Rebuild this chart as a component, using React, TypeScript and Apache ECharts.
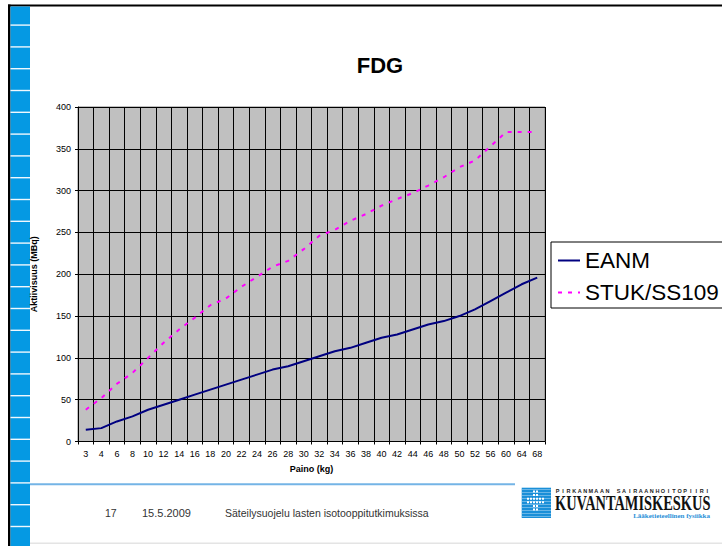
import React, { useEffect, useRef } from "react";
import * as echarts from "echarts";

const categories = ["3","4","6","8","10","12","14","16","18","20","22","24","26","28","30","32","34","36","38","40","42","44","46","48","50","52","56","60","64","68"];
const eanm = [14,16,24,30,38,44,50,56,62,68,74,80,86,90,96,102,108,112,118,124,128,134,140,144,150,158,168,178,188,196];
const stuk = [38,52,69,82,100,118,134,148,163,171,185,197,209,216,230,246,253,264,272,282,290,297,306,316,328,336,353,370,370,370];
const seriesNames = ["EANM", "STUK/SS109"];
const titleText = "FDG";
const yName = "Aktiivisuus (MBq)";
const xName = "Paino (kg)";
const footerTexts = ["17", "15.5.2009", "Säteilysuojelu lasten isotooppitutkimuksissa"];
const orgName = "PIRKANMAAN SAIRAANHOITOPIIRI";
const logoName = "KUVANTAMISKESKUS";
const logoSub = "Lääketieteellinen fysiikka";

const SANS = "'Liberation Sans', Arial, Helvetica, sans-serif";
const SERIF = "'Liberation Serif', 'Times New Roman', serif";

export default function App() {
  const ref = useRef<HTMLDivElement>(null);
  useEffect(() => {
    if (!ref.current) return;
    const chart = echarts.init(ref.current, undefined, { renderer: "svg" });
    const els: any[] = [];
    // top and left black border
    els.push({ type: "rect", shape: { x: 8, y: 4.5, width: 714, height: 2 }, style: { fill: "#000" }, silent: true });
    els.push({ type: "rect", shape: { x: 8, y: 4.5, width: 2.5, height: 542 }, style: { fill: "#000" }, silent: true });
    // blue strip
    els.push({ type: "rect", shape: { x: 10.5, y: 6.5, width: 19.5, height: 540 }, style: { fill: "#0599e3" }, silent: true });
    for (let yy = 25; yy < 546; yy += 21.8) {
      els.push({ type: "rect", shape: { x: 10.5, y: yy - 0.6, width: 19.5, height: 1.4 }, style: { fill: "#f0f8fe" }, silent: true });
    }
    // footer lines
    els.push({ type: "rect", shape: { x: 30, y: 483.3, width: 485, height: 2 }, style: { fill: "#74b4e6" }, silent: true });
    els.push({ type: "rect", shape: { x: 30, y: 542.5, width: 692, height: 1.5 }, style: { fill: "#e4e4e4" }, silent: true });
    // footer texts
    const fx = [105, 142, 225];
    const fs = [10.5, 11, 10.5];
    footerTexts.forEach((t, i) => {
      els.push({ type: "text", x: fx[i], y: 513, style: { text: t, fill: "#333", fontSize: fs[i], fontFamily: SANS, align: "left", verticalAlign: "middle" }, silent: true });
    });
    // title
    els.push({ type: "text", x: 380, y: 65, style: { text: titleText, fill: "#000", fontSize: 22, fontWeight: "bold", fontFamily: SANS, align: "center", verticalAlign: "middle" }, silent: true });
    // logo block
    els.push({ type: "rect", shape: { x: 521.7, y: 487.7, width: 29.3, height: 30.3 }, style: { fill: "#1a8fd8" }, silent: true });
    for (let k = 0; k < 10; k++) {
      els.push({ type: "rect", shape: { x: 521.7, y: 489 + k * 3, width: 29.3, height: 0.6 }, style: { fill: "#9fd0f2" }, silent: true });
    }
    const cross = [[0,0],[1,0],[0,1],[1,1],[-2,2],[-1,2],[0,2],[1,2],[2,2],[3,2],[-2,3],[-1,3],[0,3],[1,3],[2,3],[3,3],[0,4],[1,4],[0,5],[1,5]];
    cross.forEach(([cx, cy]) => {
      els.push({ type: "rect", shape: { x: 533 + cx * 3, y: 490.5 + cy * 3.6, width: 2, height: 2 }, style: { fill: "#ffffff" }, silent: true });
    });
    for (let i = 0; i < orgName.length; i++) {
      els.push({ type: "text", x: 557.5 + i * 5.55, y: 490.5, style: { text: orgName[i], fill: "#222", fontSize: 5.5, fontWeight: "bold", fontFamily: SANS, align: "center", verticalAlign: "middle" }, silent: true });
    }
    els.push({ type: "text", x: 555, y: 502, scaleX: 0.655, style: { text: logoName, fill: "#111", fontSize: 22, fontWeight: "bold", fontFamily: SERIF, align: "left", verticalAlign: "middle" }, silent: true });
    els.push({ type: "text", x: 710, y: 515.5, style: { text: logoSub, fill: "#2a90d8", fontSize: 7, fontWeight: "bold", fontFamily: SERIF, align: "right", verticalAlign: "middle" }, silent: true });

    chart.setOption({
      animation: false,
      grid: { left: 78, top: 107, right: 177, bottom: 104.5, show: true, backgroundColor: "#c0c0c0", borderColor: "#808080", borderWidth: 1 },
      legend: {
        orient: "vertical", left: 551, top: 242, padding: [7, 12, 4, 6], itemWidth: 22, itemHeight: 12, itemGap: 9,
        borderColor: "#000", borderWidth: 1, backgroundColor: "#fff",
        itemStyle: { opacity: 0 },
        textStyle: { fontSize: 22.5, color: "#000", fontFamily: SANS },
        data: seriesNames,
      },
      xAxis: {
        type: "category", data: categories, boundaryGap: true,
        axisLine: { lineStyle: { color: "#000", width: 1 } },
        axisTick: { show: true, interval: 0, length: 3, lineStyle: { color: "#000" } },
        axisLabel: { interval: 0, fontSize: 9, color: "#000", margin: 8, fontFamily: SANS },
        splitLine: { show: true, interval: 0, lineStyle: { color: "#000", width: 1 } },
        name: xName, nameLocation: "middle", nameGap: 23,
        nameTextStyle: { fontWeight: "bold", fontSize: 9, color: "#000", fontFamily: SANS },
      },
      yAxis: {
        type: "value", min: 0, max: 400, interval: 50,
        axisLine: { show: true, lineStyle: { color: "#000", width: 1 } },
        axisTick: { show: true, length: 3, lineStyle: { color: "#000" } },
        axisLabel: { fontSize: 9, color: "#000", margin: 7, fontFamily: SANS },
        splitLine: { show: true, lineStyle: { color: "#000", width: 1 } },
        name: yName, nameLocation: "middle", nameRotate: 90, nameGap: 40,
        nameTextStyle: { fontWeight: "bold", fontSize: 9, color: "#000", fontFamily: SANS },
      },
      series: [
        { name: seriesNames[0], type: "line", data: eanm, symbol: "none", lineStyle: { color: "#000080", width: 2 }, itemStyle: { color: "#000080" } },
        { name: seriesNames[1], type: "line", data: stuk, symbol: "none", lineStyle: { color: "#ff00ff", width: 2, type: [4, 6] }, itemStyle: { color: "#ff00ff" } },
      ],
      graphic: { elements: els },
    });
    return () => chart.dispose();
  }, []);
  return <div ref={ref} style={{ position: "absolute", left: 0, top: 0, width: 722, height: 546, background: "#fff" }} />;
}
